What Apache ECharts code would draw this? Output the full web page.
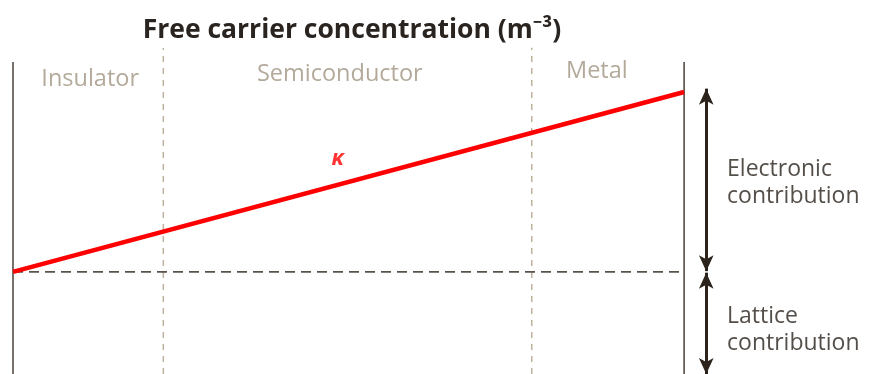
<!DOCTYPE html>
<html>
<head>
<meta charset="utf-8">
<script src="https://cdn.jsdelivr.net/npm/echarts@6/dist/echarts.min.js"></script>
<style>
  html, body { margin: 0; padding: 0; background: #fff; }
  #main { width: 870px; height: 374px; }
</style>
</head>
<body>
<div id="main"></div>
<script>
// 数据：抽象坐标（x 为载流子浓度，y 为热导率），单位任意
var regionNames = ['Insulator', 'Semiconductor', 'Metal'];
var regionX = [11.5, 48.7, 87.0];
var regionY = [78.9, 80.1, 80.9];
var boundaryX = [22.4, 77.3];
var kappaX = [0, 100];
var kappaY = [27.3, 75.4];
var latticeY = 27.3;
var contribNames = ['Electronic\ncontribution', 'Lattice\ncontribution'];
var contribY = [51.0, 11.8];

var myChart = echarts.init(document.getElementById('main'));

var font = '"Open Sans", "Noto Sans", sans-serif';
var frameColor = '#554d45';
var dashColor = '#bdb29f';
var arrowColor = '#2b231c';

var option = {
    backgroundColor: '#fff',
    animation: false,
    title: {
        text: 'Free carrier concentration (m\u207B\u00B3)',
        left: 347,
        textAlign: 'center',
        top: 12,
        textStyle: { fontFamily: font, fontWeight: 'bold', fontSize: 26.5, color: '#2a2420' }
    },
    grid: { left: 13, right: 0, top: 0, bottom: 0 },
    xAxis: { type: 'value', min: 0, max: 127.7, show: false },
    yAxis: { type: 'value', min: 0, max: 100, show: false },
    series: [
        // 左右边框
        {
            type: 'line', symbol: 'none', silent: true,
            data: [[0, 0], [0, 83.4]],
            lineStyle: { color: frameColor, width: 1.6 }
        },
        {
            type: 'line', symbol: 'none', silent: true,
            data: [[100, 0], [100, 83.4]],
            lineStyle: { color: frameColor, width: 1.6 }
        },
        // 区域分界虚线
        {
            type: 'line', symbol: 'none', silent: true,
            data: [[boundaryX[0], 0], [boundaryX[0], 87.2]],
            lineStyle: { color: dashColor, width: 1.5, type: [6, 6] }
        },
        {
            type: 'line', symbol: 'none', silent: true,
            data: [[boundaryX[1], 0], [boundaryX[1], 87.2]],
            lineStyle: { color: dashColor, width: 1.5, type: [6, 6] }
        },
        // 晶格贡献水平虚线
        {
            type: 'line', symbol: 'none', silent: true,
            data: [[0, latticeY], [100, latticeY]],
            lineStyle: { color: '#5a534a', width: 1.7, type: [10, 6] }
        },
        // 热导率 κ
        {
            type: 'line', symbol: 'none', silent: true, z: 5,
            data: [[kappaX[0], kappaY[0]], [kappaX[1], kappaY[1]]],
            lineStyle: { color: '#ff0000', width: 4.5 }
        },
        {
            type: 'scatter', symbolSize: 0, silent: true,
            data: [[48.4, 57.6]],
            label: {
                show: true, position: 'inside', formatter: '\u03BA',
                fontFamily: font, fontStyle: 'italic', fontWeight: 'bold', fontSize: 22, color: '#ff0000'
            }
        },
        // 区域名称
        {
            type: 'scatter', symbolSize: 0, silent: true,
            data: regionX.map(function (x, i) { return [x, regionY[i]]; }),
            label: {
                show: true, position: 'inside',
                formatter: function (p) { return regionNames[p.dataIndex]; },
                fontFamily: font, fontSize: 23.5, color: '#a09481'
            }
        },
        // 双向箭头
        {
            type: 'line', symbol: 'none', silent: true, data: [],
            markLine: {
                silent: true, animation: false,
                symbol: ['arrow', 'arrow'], symbolSize: [11, 16],
                label: { show: false },
                lineStyle: { color: arrowColor, width: 3, type: 'solid' },
                data: [
                    [{ coord: [103.3, latticeY + 0.2] }, { coord: [103.3, 76.3] }],
                    [{ coord: [103.3, 0] }, { coord: [103.3, latticeY - 0.2] }]
                ]
            }
        },
        // 贡献说明
        {
            type: 'scatter', symbolSize: 0, silent: true,
            data: contribY.map(function (y) { return [106.4, y]; }),
            label: {
                show: true, position: 'right', distance: 0,
                formatter: function (p) { return contribNames[p.dataIndex]; },
                fontFamily: font, fontSize: 23, lineHeight: 27, color: '#29221c'
            }
        }
    ]
};

myChart.setOption(option);
</script>
</body>
</html>
